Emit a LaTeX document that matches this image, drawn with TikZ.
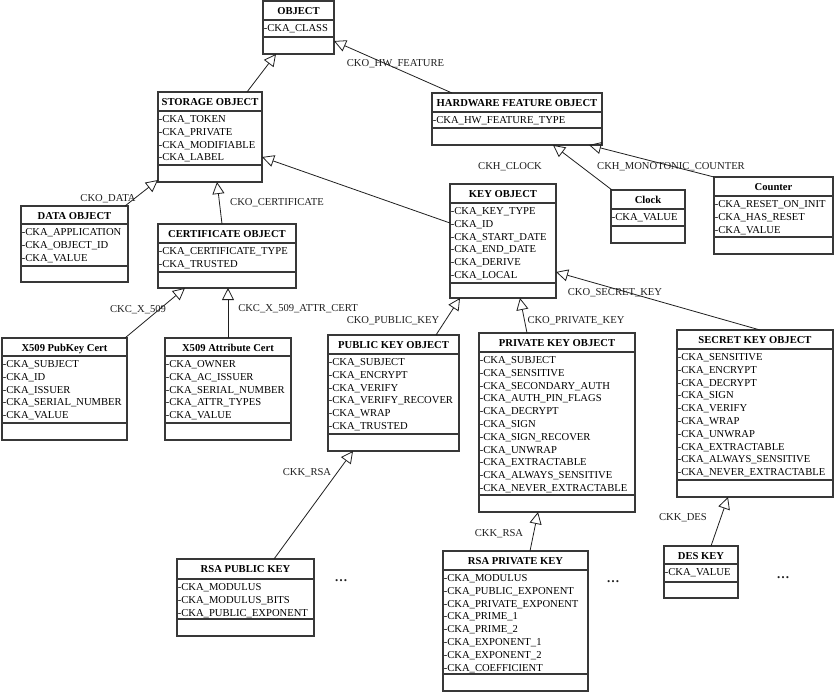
\documentclass[tikz,border=0pt]{standalone}
\usepackage{fontspec}
\setmainfont{Liberation Serif}
\usetikzlibrary{arrows.meta}
\tikzset{
  umlframe/.style={draw=black!78, line width=1.4pt, inner sep=0pt, outer sep=0pt, anchor=north west},
  umlrule/.style={draw=black!78, line width=1.4pt},
  umltitle/.style={font=\fontsize{10.6}{12.8}\selectfont\bfseries, anchor=base, inner sep=0pt},
  umlattr/.style={font=\fontsize{10.6}{12.8}\selectfont, anchor=base west, inner sep=0pt},
  genline/.style={draw=black!88, line width=0.8pt, -{Triangle[open, length=12pt, width=12pt, line width=0.8pt]}},
  edgelabel/.style={font=\fontsize{10.6}{12.8}\selectfont, anchor=base, inner sep=0pt, text=black!88},
  morelabel/.style={font=\fontsize{13}{14}\selectfont\bfseries, anchor=base, inner sep=0pt, text=black!88},
}
\newcommand\umlclass[9]{%
  \node[umlframe, minimum width={(#4)-(#2)}, minimum height={(#7)-(#3)}] (#1) at (#2,#3) {};
  \draw[umlrule] (#2,#5) -- (#4,#5);
  \draw[umlrule] (#2,#6) -- (#4,#6);
  \node[umltitle] at ({(#2+#4)/2},#3+13.2) {#8};
  \foreach \attrtext [count=\attrnum from 0] in {#9} {
    \node[umlattr] at (#2+0.6, #5+11.5+12.8*\attrnum) {\attrtext};
  }
}
\begin{document}
\begin{tikzpicture}[x=1pt, y=-1pt]
\useasboundingbox[fill=white] (0,0) rectangle (834,693);

\umlclass{object}{263}{1}{334}{20}{37}{54}{OBJECT}{-CKA\_CLASS}
\umlclass{storage}{158}{92}{262}{111}{165}{182}{STORAGE OBJECT}{-CKA\_TOKEN,-CKA\_PRIVATE,-CKA\_MODIFIABLE,-CKA\_LABEL}
\umlclass{hardware}{432}{93}{602}{112}{128}{145}{HARDWARE FEATURE OBJECT}{-CKA\_HW\_FEATURE\_TYPE}
\umlclass{clock}{611}{190}{685}{209}{226}{243}{Clock}{-CKA\_VALUE}
\umlclass{counter}{714}{177}{833}{196}{237}{254}{Counter}{-CKA\_RESET\_ON\_INIT,-CKA\_HAS\_RESET,-CKA\_VALUE}
\umlclass{keyobj}{450}{184}{556}{203}{283}{298}{KEY OBJECT}{-CKA\_KEY\_TYPE,-CKA\_ID,-CKA\_START\_DATE,-CKA\_END\_DATE,-CKA\_DERIVE,-CKA\_LOCAL}
\umlclass{data}{21}{206}{128}{224}{266}{282}{DATA OBJECT}{-CKA\_APPLICATION,-CKA\_OBJECT\_ID,-CKA\_VALUE}
\umlclass{cert}{158}{224}{296}{243}{272}{288}{CERTIFICATE OBJECT}{-CKA\_CERTIFICATE\_TYPE,-CKA\_TRUSTED}
\umlclass{xpub}{2}{338}{127}{356}{423}{440}{X509 PubKey Cert}{-CKA\_SUBJECT,-CKA\_ID,-CKA\_ISSUER,-CKA\_SERIAL\_NUMBER,-CKA\_VALUE}
\umlclass{xattr}{165}{338}{291}{356}{423}{440}{X509 Attribute Cert}{-CKA\_OWNER,-CKA\_AC\_ISSUER,-CKA\_SERIAL\_NUMBER,-CKA\_ATTR\_TYPES,-CKA\_VALUE}
\umlclass{pubkey}{328}{335}{459}{354}{434}{451}{PUBLIC KEY OBJECT}{-CKA\_SUBJECT,-CKA\_ENCRYPT,-CKA\_VERIFY,-CKA\_VERIFY\_RECOVER,-CKA\_WRAP,-CKA\_TRUSTED}
\umlclass{privkey}{479}{333}{635}{352}{495}{512}{PRIVATE KEY OBJECT}{-CKA\_SUBJECT,-CKA\_SENSITIVE,-CKA\_SECONDARY\_AUTH,-CKA\_AUTH\_PIN\_FLAGS,-CKA\_DECRYPT,-CKA\_SIGN,-CKA\_SIGN\_RECOVER,-CKA\_UNWRAP,-CKA\_EXTRACTABLE,-CKA\_ALWAYS\_SENSITIVE,-CKA\_NEVER\_EXTRACTABLE}
\umlclass{secret}{677}{330}{833}{349}{480}{497}{SECRET KEY OBJECT}{-CKA\_SENSITIVE,-CKA\_ENCRYPT,-CKA\_DECRYPT,-CKA\_SIGN,-CKA\_VERIFY,-CKA\_WRAP,-CKA\_UNWRAP,-CKA\_EXTRACTABLE,-CKA\_ALWAYS\_SENSITIVE,-CKA\_NEVER\_EXTRACTABLE}
\umlclass{rsapub}{177}{559}{314}{579}{619}{636}{RSA PUBLIC KEY}{-CKA\_MODULUS,-CKA\_MODULUS\_BITS,-CKA\_PUBLIC\_EXPONENT}
\umlclass{rsapriv}{443}{551}{588}{570}{674}{691}{RSA PRIVATE KEY}{-CKA\_MODULUS,-CKA\_PUBLIC\_EXPONENT,-CKA\_PRIVATE\_EXPONENT,-CKA\_PRIME\_1,-CKA\_PRIME\_2,-CKA\_EXPONENT\_1,-CKA\_EXPONENT\_2,-CKA\_COEFFICIENT}
\umlclass{des}{664}{546}{738}{564}{582}{598}{DES KEY}{-CKA\_VALUE}

% generalisation connectors
\draw[genline] ([xshift=89pt]storage.north west) -- ([xshift=13pt]object.south west);
\draw[genline] ([xshift=20pt]hardware.north west) -- ([yshift=13pt]object.south east);
\draw[genline] ([xshift=-3pt]data.north east) -- ([yshift=2pt]storage.south west);
\draw[genline] ([xshift=64pt]cert.north west) -- ([xshift=59pt]storage.south west);
\draw[genline] ([yshift=-39pt]keyobj.north west) -- ([yshift=25pt]storage.south east);
\draw[genline] ([xshift=1pt]clock.north west) -- ([xshift=121pt]hardware.south west);
\draw[genline] (counter.north west) -- ([xshift=-13pt]hardware.south east);
\draw[genline] ([xshift=-2pt]xpub.north east) -- ([xshift=27pt]cert.south west);
\draw[genline] ([xshift=63pt]xattr.north west) -- ([xshift=70pt]cert.south west);
\draw[genline] ([xshift=108pt]pubkey.north west) -- ([xshift=10pt]keyobj.south west);
\draw[genline] ([xshift=48pt]privkey.north west) -- ([xshift=70pt]keyobj.south west);
\draw[genline] ([xshift=83pt]secret.north west) -- ([yshift=26pt]keyobj.south east);
\draw[genline] ([xshift=97pt]rsapub.north west) -- ([xshift=25pt]pubkey.south west);
\draw[genline] ([xshift=87pt]rsapriv.north west) -- ([xshift=59pt]privkey.south west);
\draw[genline] ([xshift=47pt]des.north west) -- ([xshift=51pt]secret.south west);

% connector labels
\node[edgelabel] (lhw) at (395.5,66.8) {CKO\_HW\_FEATURE};
\node[edgelabel] (ldata) at (108,201.8) {CKO\_DATA};
\node[edgelabel] (lcert) at (277,205.8) {CKO\_CERTIFICATE};
\node[edgelabel] (lclock) at (510,169.8) {CKH\_CLOCK};
\node[edgelabel] (lcounter) at (671,169.8) {CKH\_MONOTONIC\_COUNTER};
\node[edgelabel] (lx509) at (138,312.8) {CKC\_X\_509};
\node[edgelabel] (lxattr) at (298,311.8) {CKC\_X\_509\_ATTR\_CERT};
\node[edgelabel] (lpub) at (393,323.8) {CKO\_PUBLIC\_KEY};
\node[edgelabel] (lpriv) at (576,323.8) {CKO\_PRIVATE\_KEY};
\node[edgelabel] (lsecret) at (615,295.8) {CKO\_SECRET\_KEY};
\node[edgelabel] (lrsa1) at (307,475.8) {CKK\_RSA};
\node[edgelabel] (lrsa2) at (499,536.8) {CKK\_RSA};
\node[edgelabel] (ldes) at (683,520.8) {CKK\_DES};

% ellipses
\node[morelabel] (dots1) at (341,581.5) {\ldots};
\node[morelabel] (dots2) at (613,582.5) {\ldots};
\node[morelabel] (dots3) at (783,578.5) {\ldots};
\end{tikzpicture}
\end{document}
